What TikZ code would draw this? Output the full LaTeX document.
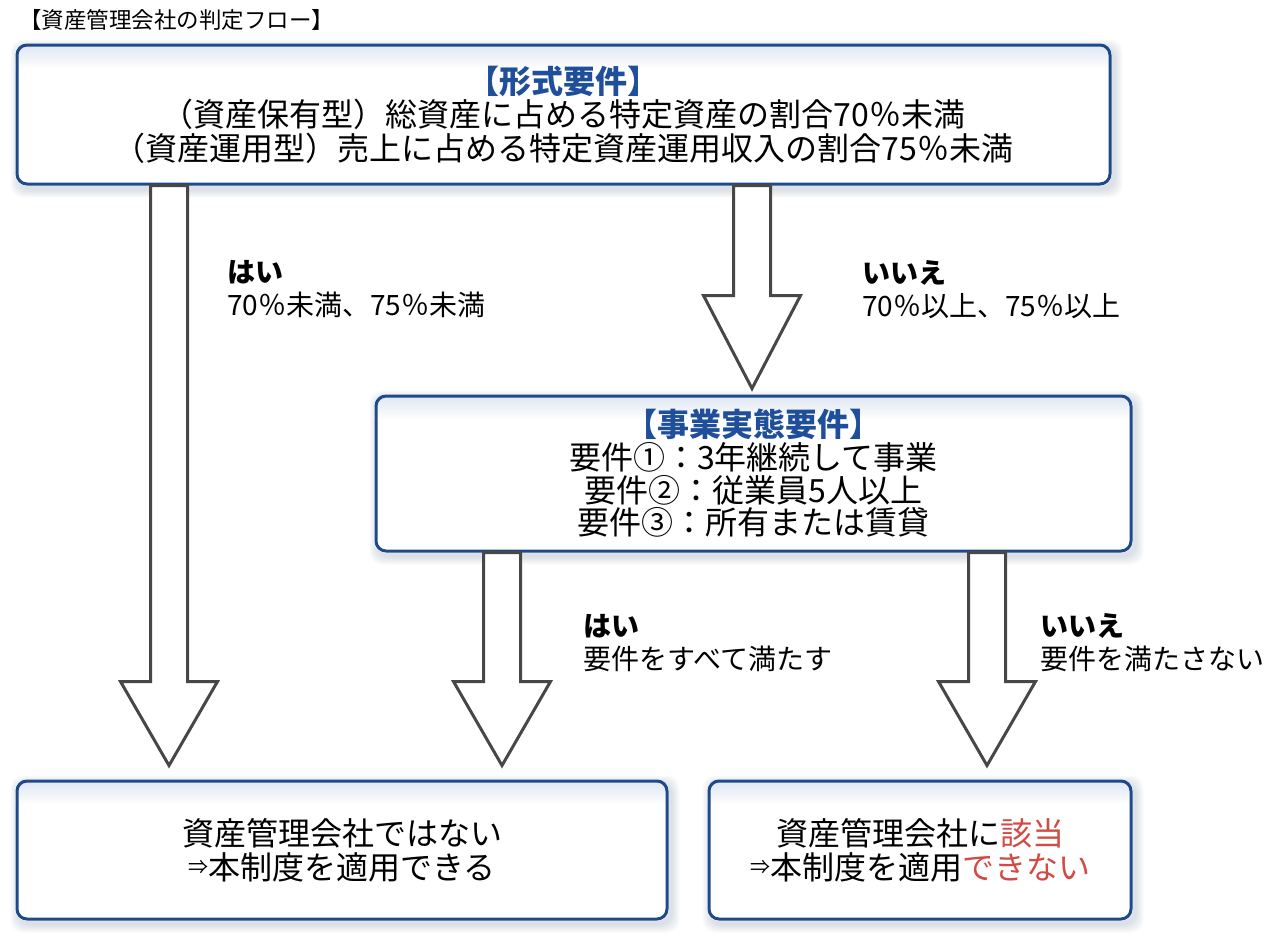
\documentclass[tikz,border=0pt]{standalone}
\usepackage{fontspec}
\setmainfont{Noto Sans CJK JP}
\usetikzlibrary{calc}
\definecolor{boxblue}{HTML}{1F4A8A}
\definecolor{headblue}{HTML}{1F4E9A}
\definecolor{arrgray}{HTML}{474747}
\definecolor{redtxt}{HTML}{D24A43}
\definecolor{shadowc}{HTML}{7888A0}
\definecolor{innerblue}{HTML}{DDE6F2}
\pgfdeclarelayer{background}
\pgfsetlayers{background,main}
\tikzset{
  box/.style={draw=boxblue, line width=3pt, rounded corners=10pt, align=center, inner sep=0pt},
  barrow/.style={draw=arrgray, line width=3pt, fill=white, line join=miter},
  lbl/.style={anchor=west, align=left, font=\fontsize{28}{33}\selectfont, inner sep=0pt},
}
\newcommand\smallimp{\raisebox{5pt}{\fontsize{20}{20}\selectfont ⇒}}
\newcommand\boxdeco[1]{%
  \begin{pgfonlayer}{background}
    \foreach \i in {1,...,8}
      \fill[shadowc, opacity=0.035, rounded corners=12pt]
        ($(#1.north west)+(3-\i,4-\i)$) rectangle ($(#1.south east)+(3+\i,4+\i)$);
    \fill[white, rounded corners=10pt] (#1.north west) rectangle (#1.south east);
    \begin{scope}
      \clip[rounded corners=10pt] (#1.north west) rectangle (#1.south east);
      \shade[top color=innerblue, bottom color=white]
        (#1.north west) rectangle ($(#1.north east)+(0,26)$);
    \end{scope}
  \end{pgfonlayer}}
% #1 x centre (px), #2 from node, #3 to node, #4 gap of tip above target, #5 head length
\newcommand\blockarr[5]{%
  \draw[barrow] let \p1=(#2.south), \p2=(#3.north) in
    (#1pt-18.5pt,\y1) -- (#1pt+18.5pt,\y1) -- (#1pt+18.5pt,\y2+#4pt+#5pt)
    -- (#1pt+48.5pt,\y2+#4pt+#5pt) -- (#1pt,\y2+#4pt)
    -- (#1pt-48.5pt,\y2+#4pt+#5pt) -- (#1pt-18.5pt,\y2+#4pt+#5pt) -- cycle;}
\begin{document}
\begin{tikzpicture}[x=1pt,y=-1pt]
\useasboundingbox (0,0) rectangle (1280,938);

\node[anchor=west, inner sep=0pt, font=\fontsize{22.5}{24}\selectfont] (title) at (19,20) {【資産管理会社の判定フロー】};

\node[box, minimum width=1093pt, minimum height=139pt, font=\fontsize{32}{33.5}\selectfont] (form) at (563.5,114.5)
  {{\bfseries\color{headblue}【形式要件】}\\（資産保有型）総資産に占める特定資産の割合70％未満\\（資産運用型）売上に占める特定資産運用収入の割合75％未満};

\node[box, minimum width=755pt, minimum height=155pt, font=\fontsize{32}{32.7}\selectfont] (biz) at (753.5,473.5)
  {{\bfseries\color{headblue}【事業実態要件】}\\要件①：3年継続して事業\\要件②：従業員5人以上\\要件③：所有または賃貸};

\node[box, minimum width=650pt, minimum height=138pt, font=\fontsize{32}{34}\selectfont] (notmc) at (342,850)
  {資産管理会社ではない\\\smallimp 本制度を適用できる};

\node[box, minimum width=422pt, minimum height=138pt, font=\fontsize{32}{34}\selectfont] (ismc) at (920,850)
  {資産管理会社に{\color{redtxt}該当}\\\smallimp 本制度を適用{\color{redtxt}できない}};

\boxdeco{form}
\boxdeco{biz}
\boxdeco{notmc}
\boxdeco{ismc}

\blockarr{169}{form}{notmc}{14}{84}
\blockarr{752}{form}{biz}{6}{93}
\blockarr{502}{biz}{notmc}{14}{84}
\blockarr{987}{biz}{ismc}{14}{84}

\node[lbl] (yes1) at (227,289.5) {{\bfseries はい}\\70％未満、75％未満};
\node[lbl] (no1) at (862,289.5) {{\bfseries いいえ}\\70％以上、75％以上};
\node[lbl] (yes2) at (583,643) {{\bfseries はい}\\要件をすべて満たす};
\node[lbl] (no2) at (1040,643) {{\bfseries いいえ}\\要件を満たさない};
\end{tikzpicture}
\end{document}
